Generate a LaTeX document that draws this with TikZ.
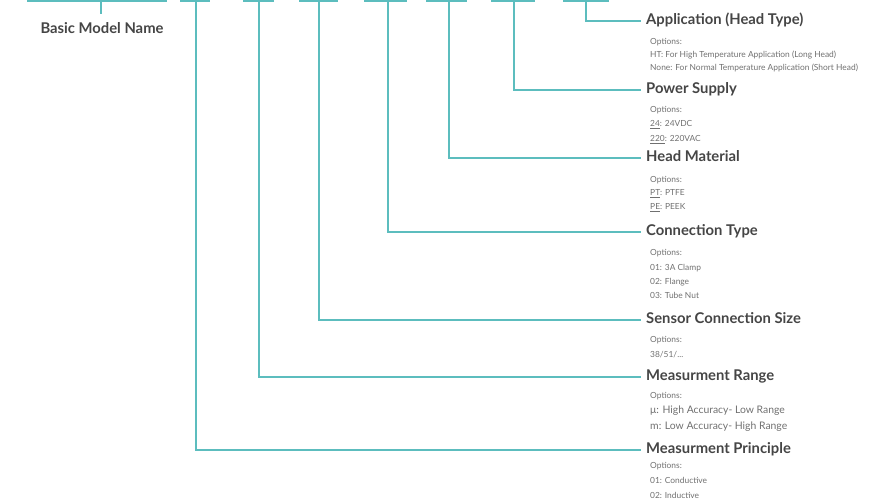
\documentclass[tikz,border=0pt]{standalone}
\usepackage{fontspec}
\setmainfont{Lato}
\definecolor{tealline}{HTML}{5CBDBE}
\definecolor{titlegray}{HTML}{454545}
\definecolor{optgray}{HTML}{707070}
\begin{document}
\begin{tikzpicture}[x=1pt,y=-1pt,
  conn/.style={draw=tealline,line width=2.4pt},
  ttl/.style={anchor=west,inner sep=0pt,text height=10pt,text depth=3pt,font=\fontsize{14.8}{17}\selectfont\bfseries,text=titlegray},
  opt/.style={anchor=base west,inner sep=0pt,font=\fontsize{8.4}{10}\selectfont,text=optgray},
  optb/.style={anchor=base west,inner sep=0pt,font=\fontsize{10.4}{12}\selectfont,text=optgray},
]
\useasboundingbox (0,0) rectangle (884,502);
% top code bars
\draw[conn] (27,0.6) -- (167,0.6);
\draw[conn] (180,0.6) -- (210,0.6);
\draw[conn] (243,0.6) -- (274,0.6);
\draw[conn] (299,0.6) -- (338,0.6);
\draw[conn] (364,0.6) -- (407,0.6);
\draw[conn] (426,0.6) -- (467,0.6);
\draw[conn] (491,0.6) -- (535,0.6);
\draw[conn] (563,0.6) -- (609,0.6);
\coordinate (c0) at (101,0);
\coordinate (c1) at (196,0);
\coordinate (c2) at (259,0);
\coordinate (c3) at (319,0);
\coordinate (c4) at (388,0);
\coordinate (c5) at (449,0);
\coordinate (c6) at (514,0);
\coordinate (c7) at (586,0);
% basic model name
\node[inner sep=0pt,text height=10pt,text depth=3pt,font=\fontsize{14.8}{17}\selectfont\bfseries,text=titlegray] (bmn) at (102,30) {Basic Model Name};
\draw[conn] (c0) -- ([yshift=9pt]c0 |- bmn.north);
% titles
\node[ttl] (t7) at (646,21) {Application (Head Type)};
\node[ttl] (t6) at (646,90) {Power Supply};
\node[ttl] (t5) at (646,158) {Head Material};
\node[ttl] (t4) at (646,232) {Connection Type};
\node[ttl] (t3) at (646,320) {Sensor Connection Size};
\node[ttl] (t2) at (646,377) {Measurment Range};
\node[ttl] (t1) at (646,450) {Measurment Principle};
\foreach \i in {1,...,7}{
  \draw[conn] (c\i) |- ([xshift=-5pt]t\i.west);
}
% options
\node[opt] (o7a) at (650,45) {Options:};
\node[opt] (o7b) at (650,58) {HT: For High Temperature Application (Long Head)};
\node[opt] (o7c) at (650,71) {None: For Normal Temperature Application (Short Head)};
\node[opt] (o6a) at (650,113) {Options:};
\node[opt] (o6b) at (650,127) {\underline{24}: 24VDC};
\node[opt] (o6c) at (650,142) {\underline{220}: 220VAC};
\node[opt] (o5a) at (650,183) {Options:};
\node[opt] (o5b) at (650,196) {\underline{PT}: PTFE};
\node[opt] (o5c) at (650,210) {\underline{PE}: PEEK};
\node[opt] (o4a) at (650,256) {Options:};
\node[opt] (o4b) at (650,271) {01: 3A Clamp};
\node[opt] (o4c) at (650,285) {02: Flange};
\node[opt] (o4d) at (650,299) {03: Tube Nut};
\node[opt] (o3a) at (650,343) {Options:};
\node[opt] (o3b) at (650,358) {38/51/...};
\node[opt] (o2a) at (650,399) {Options:};
\node[optb] (o2b) at (650,414) {μ: High Accuracy- Low Range};
\node[optb] (o2c) at (650,430) {m: Low Accuracy- High Range};
\node[opt] (o1a) at (650,469) {Options:};
\node[opt] (o1b) at (650,484) {01: Conductive};
\node[opt] (o1c) at (650,498) {02: Inductive};
\end{tikzpicture}
\end{document}
